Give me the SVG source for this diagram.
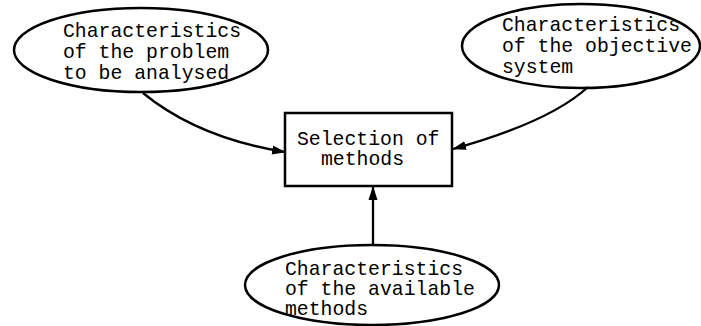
<svg xmlns="http://www.w3.org/2000/svg" width="701" height="326" viewBox="0 0 701 326">
<style>
.shape{fill:none;stroke:#000;stroke-width:2.5}
.conn{fill:none;stroke:#000;stroke-width:2.3}
text{font-family:"Liberation Mono","Courier New",monospace;font-size:19.8px;fill:#000}
</style>
<defs>
<marker id="arr" markerWidth="14" markerHeight="10" refX="13" refY="5" orient="auto" markerUnits="userSpaceOnUse">
<path d="M0,0.5 L14,5 L0,9.5 Z" fill="#000"/>
</marker>
</defs>
<rect width="701" height="326" fill="#fff"/>
<g id="problem">
<ellipse class="shape" cx="141" cy="50" rx="127" ry="42"/>
<text x="63" y="37">Characteristics</text>
<text x="63" y="58">of the problem</text>
<text x="63" y="79">to be analysed</text>
</g>
<g id="objective">
<ellipse class="shape" cx="581" cy="46" rx="119" ry="42"/>
<text x="502" y="31">Characteristics</text>
<text x="502" y="52">of the objective</text>
<text x="502" y="73">system</text>
</g>
<g id="selection">
<rect class="shape" x="285" y="113" width="167" height="73"/>
<text x="297" y="145">Selection of</text>
<text x="321" y="165">methods</text>
</g>
<g id="available">
<ellipse class="shape" cx="372" cy="285" rx="127" ry="40"/>
<text x="285" y="275">Characteristics</text>
<text x="285" y="295">of the available</text>
<text x="285" y="315">methods</text>
</g>
<g id="connectors">
<path class="conn" d="M143,93 Q198,138 285,152" marker-end="url(#arr)"/>
<path class="conn" d="M588,87 Q550,122 453,149" marker-end="url(#arr)"/>
<path class="conn" d="M373,245 L373,187" marker-end="url(#arr)"/>
</g>
</svg>
